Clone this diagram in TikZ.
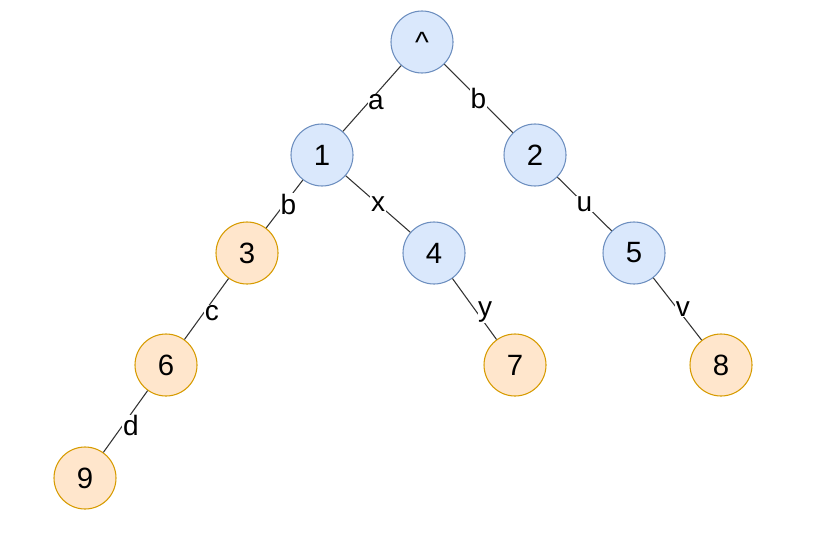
\documentclass[tikz,border=0pt]{standalone}
\usepackage{fontspec}
\setmainfont{Liberation Sans}
\usetikzlibrary{positioning}
\definecolor{blueFill}{HTML}{DAE8FC}
\definecolor{blueLine}{HTML}{6C8EBF}
\definecolor{orangeFill}{HTML}{FFE6CC}
\definecolor{orangeLine}{HTML}{D79B00}

\begin{document}
\begin{tikzpicture}[x=0.75pt, y=-0.75pt,
  inner/.style={draw=blueLine, fill=blueFill, circle, line width=0.8pt, minimum size=46.5pt, inner sep=0pt, font=\fontsize{22}{24}\selectfont},
  leaf/.style={draw=orangeLine, fill=orangeFill, circle, line width=0.8pt, minimum size=46.5pt, inner sep=0pt, font=\fontsize{22}{24}\selectfont},
  lbl/.style={fill=white, inner sep=0.5pt, font=\fontsize{21}{23}\selectfont},
  edge/.style={draw=black!80, line width=0.8pt}]
\useasboundingbox (0,0) rectangle (816,535);
\node[inner] (root) at (422,42) {\^{}};
\node[inner] (n1) at (322,155) {1};
\node[inner] (n2) at (535,155) {2};
\node[leaf] (n3) at (247,253) {3};
\node[inner] (n4) at (434,253) {4};
\node[inner] (n5) at (634,253) {5};
\node[leaf] (n6) at (166,365) {6};
\node[leaf] (n7) at (515,365) {7};
\node[leaf] (n8) at (721,365) {8};
\node[leaf] (n9) at (85,478) {9};

\path[edge] (root) -- node[lbl, xshift=3pt, yshift=-3pt] {a} (n1);
\path[edge] (root) -- node[lbl] {b} (n2);
\path[edge] (n1) -- node[lbl, xshift=3pt] {b} (n3);
\path[edge] (n1) -- node[lbl] {x} (n4);
\path[edge] (n2) -- node[lbl] {u} (n5);
\path[edge] (n3) -- node[lbl, xshift=4pt, yshift=-3pt] {c} (n6);
\path[edge] (n4) -- node[lbl, xshift=8pt, yshift=-2pt] {y} (n7);
\path[edge] (n5) -- node[lbl, xshift=4pt] {v} (n8);
\path[edge] (n6) -- node[lbl, xshift=4pt, yshift=-3pt] {d} (n9);
\end{tikzpicture}
\end{document}
